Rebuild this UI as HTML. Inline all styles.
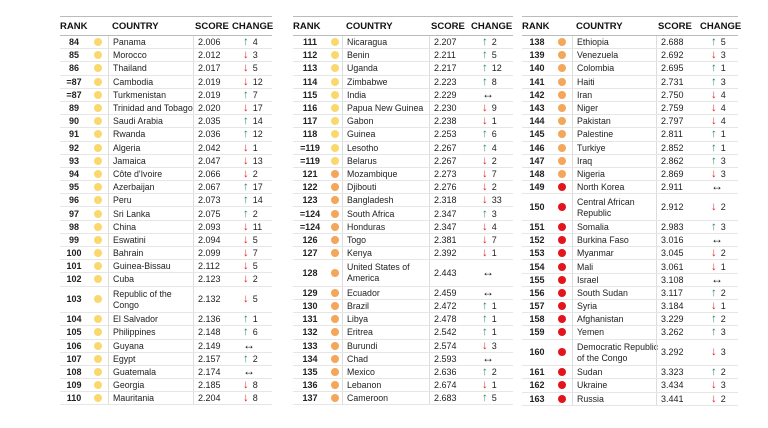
<!DOCTYPE html>
<html><head><meta charset="utf-8"><style>
*{margin:0;padding:0;box-sizing:border-box}
body{width:768px;height:428px;background:#fff;font-family:"Liberation Sans",sans-serif;color:#222;position:relative;overflow:hidden}
.t{position:absolute;top:16px;border-top:1px solid #bbb}
.h{height:19px;display:flex;align-items:center;font-weight:bold;font-size:9.5px;border-bottom:1px solid #bbb;color:#111}
.r{height:13.2px;display:flex;align-items:center;font-size:9px;border-bottom:1px solid #e6e6e6}
.r.x{height:26.6px}
.r>span,.h>span{display:flex;align-items:center;height:100%;white-space:nowrap}
.k{font-weight:bold;justify-content:center}
.d{justify-content:center}
.d:after{content:"";width:8px;height:8px;border-radius:50%;background:var(--c)}
.y{--c:#fbd86e}.o{--c:#f4a65a}.R{--c:#e3141c}
.r>.c{border-left:1px solid #ddd;padding-left:4px;line-height:11px;font-size:8.8px;flex-direction:column;justify-content:center;align-items:flex-start;padding-top:1px}
.c b{font-weight:normal;display:block}
.s{border-left:1px solid #ddd;padding-left:4px}
.g{padding-left:11px}
.u,.n,.v{font-style:normal;font-weight:bold;margin-right:4px;font-size:11.5px;line-height:10px;display:inline-block}
.u{color:#2e8a5c}.v{color:#e0262b}.n{color:#111;font-size:12px;transform:translateY(-1px)}
#a .k{width:28px}#a .d{width:20px}#a .c{width:85px}#a .s{width:39px}#a .g{width:40px}
#b .k{width:34px}#b .d{width:15px}#b .c{width:87px}#b .s{width:42px}#b .g{width:42px}
#e .k{width:30px}#e .d{width:20px}#e .c{width:84px}#e .s{width:44px}#e .g{width:38px}
.h .k{justify-content:flex-start}
.h .c,.h .s{border-left:none}
.h .c{padding-left:4px}
.h .s{padding-left:2px}.h .g{padding-left:0}
</style></head><body>

<div class="t" id="a" style="left:60px;width:212px">
<div class="h"><span class="k">RANK</span><span class="d"></span><span class="c">COUNTRY</span><span class="s">SCORE</span><span class="g">CHANGE</span></div>
<div class="r"><span class="k">84</span><span class="d y"></span><span class="c">Panama</span><span class="s">2.006</span><span class="g"><i class="u">↑</i>4</span></div>
<div class="r"><span class="k">85</span><span class="d y"></span><span class="c">Morocco</span><span class="s">2.012</span><span class="g"><i class="v">↓</i>3</span></div>
<div class="r"><span class="k">86</span><span class="d y"></span><span class="c">Thailand</span><span class="s">2.017</span><span class="g"><i class="v">↓</i>5</span></div>
<div class="r"><span class="k">=87</span><span class="d y"></span><span class="c">Cambodia</span><span class="s">2.019</span><span class="g"><i class="v">↓</i>12</span></div>
<div class="r"><span class="k">=87</span><span class="d y"></span><span class="c">Turkmenistan</span><span class="s">2.019</span><span class="g"><i class="u">↑</i>7</span></div>
<div class="r"><span class="k">89</span><span class="d y"></span><span class="c">Trinidad and Tobago</span><span class="s">2.020</span><span class="g"><i class="v">↓</i>17</span></div>
<div class="r"><span class="k">90</span><span class="d y"></span><span class="c">Saudi Arabia</span><span class="s">2.035</span><span class="g"><i class="u">↑</i>14</span></div>
<div class="r"><span class="k">91</span><span class="d y"></span><span class="c">Rwanda</span><span class="s">2.036</span><span class="g"><i class="u">↑</i>12</span></div>
<div class="r"><span class="k">92</span><span class="d y"></span><span class="c">Algeria</span><span class="s">2.042</span><span class="g"><i class="v">↓</i>1</span></div>
<div class="r"><span class="k">93</span><span class="d y"></span><span class="c">Jamaica</span><span class="s">2.047</span><span class="g"><i class="v">↓</i>13</span></div>
<div class="r"><span class="k">94</span><span class="d y"></span><span class="c">Côte d'Ivoire</span><span class="s">2.066</span><span class="g"><i class="v">↓</i>2</span></div>
<div class="r"><span class="k">95</span><span class="d y"></span><span class="c">Azerbaijan</span><span class="s">2.067</span><span class="g"><i class="u">↑</i>17</span></div>
<div class="r"><span class="k">96</span><span class="d y"></span><span class="c">Peru</span><span class="s">2.073</span><span class="g"><i class="u">↑</i>14</span></div>
<div class="r"><span class="k">97</span><span class="d y"></span><span class="c">Sri Lanka</span><span class="s">2.075</span><span class="g"><i class="u">↑</i>2</span></div>
<div class="r"><span class="k">98</span><span class="d y"></span><span class="c">China</span><span class="s">2.093</span><span class="g"><i class="v">↓</i>11</span></div>
<div class="r"><span class="k">99</span><span class="d y"></span><span class="c">Eswatini</span><span class="s">2.094</span><span class="g"><i class="v">↓</i>5</span></div>
<div class="r"><span class="k">100</span><span class="d y"></span><span class="c">Bahrain</span><span class="s">2.099</span><span class="g"><i class="v">↓</i>7</span></div>
<div class="r"><span class="k">101</span><span class="d y"></span><span class="c">Guinea-Bissau</span><span class="s">2.112</span><span class="g"><i class="v">↓</i>5</span></div>
<div class="r"><span class="k">102</span><span class="d y"></span><span class="c">Cuba</span><span class="s">2.123</span><span class="g"><i class="v">↓</i>2</span></div>
<div class="r x"><span class="k">103</span><span class="d y"></span><span class="c"><b>Republic of the</b><b>Congo</b></span><span class="s">2.132</span><span class="g"><i class="v">↓</i>5</span></div>
<div class="r"><span class="k">104</span><span class="d y"></span><span class="c">El Salvador</span><span class="s">2.136</span><span class="g"><i class="u">↑</i>1</span></div>
<div class="r"><span class="k">105</span><span class="d y"></span><span class="c">Philippines</span><span class="s">2.148</span><span class="g"><i class="u">↑</i>6</span></div>
<div class="r"><span class="k">106</span><span class="d y"></span><span class="c">Guyana</span><span class="s">2.149</span><span class="g"><i class="n">↔</i></span></div>
<div class="r"><span class="k">107</span><span class="d y"></span><span class="c">Egypt</span><span class="s">2.157</span><span class="g"><i class="u">↑</i>2</span></div>
<div class="r"><span class="k">108</span><span class="d y"></span><span class="c">Guatemala</span><span class="s">2.174</span><span class="g"><i class="n">↔</i></span></div>
<div class="r"><span class="k">109</span><span class="d y"></span><span class="c">Georgia</span><span class="s">2.185</span><span class="g"><i class="v">↓</i>8</span></div>
<div class="r"><span class="k">110</span><span class="d y"></span><span class="c">Mauritania</span><span class="s">2.204</span><span class="g"><i class="v">↓</i>8</span></div>
</div>

<div class="t" id="b" style="left:293px;width:220px">
<div class="h"><span class="k">RANK</span><span class="d"></span><span class="c">COUNTRY</span><span class="s">SCORE</span><span class="g">CHANGE</span></div>
<div class="r"><span class="k">111</span><span class="d y"></span><span class="c">Nicaragua</span><span class="s">2.207</span><span class="g"><i class="u">↑</i>2</span></div>
<div class="r"><span class="k">112</span><span class="d y"></span><span class="c">Benin</span><span class="s">2.211</span><span class="g"><i class="u">↑</i>5</span></div>
<div class="r"><span class="k">113</span><span class="d y"></span><span class="c">Uganda</span><span class="s">2.217</span><span class="g"><i class="u">↑</i>12</span></div>
<div class="r"><span class="k">114</span><span class="d y"></span><span class="c">Zimbabwe</span><span class="s">2.223</span><span class="g"><i class="u">↑</i>8</span></div>
<div class="r"><span class="k">115</span><span class="d y"></span><span class="c">India</span><span class="s">2.229</span><span class="g"><i class="n">↔</i></span></div>
<div class="r"><span class="k">116</span><span class="d y"></span><span class="c">Papua New Guinea</span><span class="s">2.230</span><span class="g"><i class="v">↓</i>9</span></div>
<div class="r"><span class="k">117</span><span class="d y"></span><span class="c">Gabon</span><span class="s">2.238</span><span class="g"><i class="v">↓</i>1</span></div>
<div class="r"><span class="k">118</span><span class="d y"></span><span class="c">Guinea</span><span class="s">2.253</span><span class="g"><i class="u">↑</i>6</span></div>
<div class="r"><span class="k">=119</span><span class="d y"></span><span class="c">Lesotho</span><span class="s">2.267</span><span class="g"><i class="u">↑</i>4</span></div>
<div class="r"><span class="k">=119</span><span class="d y"></span><span class="c">Belarus</span><span class="s">2.267</span><span class="g"><i class="v">↓</i>2</span></div>
<div class="r"><span class="k">121</span><span class="d o"></span><span class="c">Mozambique</span><span class="s">2.273</span><span class="g"><i class="v">↓</i>7</span></div>
<div class="r"><span class="k">122</span><span class="d o"></span><span class="c">Djibouti</span><span class="s">2.276</span><span class="g"><i class="v">↓</i>2</span></div>
<div class="r"><span class="k">123</span><span class="d o"></span><span class="c">Bangladesh</span><span class="s">2.318</span><span class="g"><i class="v">↓</i>33</span></div>
<div class="r"><span class="k">=124</span><span class="d o"></span><span class="c">South Africa</span><span class="s">2.347</span><span class="g"><i class="u">↑</i>3</span></div>
<div class="r"><span class="k">=124</span><span class="d o"></span><span class="c">Honduras</span><span class="s">2.347</span><span class="g"><i class="v">↓</i>4</span></div>
<div class="r"><span class="k">126</span><span class="d o"></span><span class="c">Togo</span><span class="s">2.381</span><span class="g"><i class="v">↓</i>7</span></div>
<div class="r"><span class="k">127</span><span class="d o"></span><span class="c">Kenya</span><span class="s">2.392</span><span class="g"><i class="v">↓</i>1</span></div>
<div class="r x"><span class="k">128</span><span class="d o"></span><span class="c"><b>United States of</b><b>America</b></span><span class="s">2.443</span><span class="g"><i class="n">↔</i></span></div>
<div class="r"><span class="k">129</span><span class="d o"></span><span class="c">Ecuador</span><span class="s">2.459</span><span class="g"><i class="n">↔</i></span></div>
<div class="r"><span class="k">130</span><span class="d o"></span><span class="c">Brazil</span><span class="s">2.472</span><span class="g"><i class="u">↑</i>1</span></div>
<div class="r"><span class="k">131</span><span class="d o"></span><span class="c">Libya</span><span class="s">2.478</span><span class="g"><i class="u">↑</i>1</span></div>
<div class="r"><span class="k">132</span><span class="d o"></span><span class="c">Eritrea</span><span class="s">2.542</span><span class="g"><i class="u">↑</i>1</span></div>
<div class="r"><span class="k">133</span><span class="d o"></span><span class="c">Burundi</span><span class="s">2.574</span><span class="g"><i class="v">↓</i>3</span></div>
<div class="r"><span class="k">134</span><span class="d o"></span><span class="c">Chad</span><span class="s">2.593</span><span class="g"><i class="n">↔</i></span></div>
<div class="r"><span class="k">135</span><span class="d o"></span><span class="c">Mexico</span><span class="s">2.636</span><span class="g"><i class="u">↑</i>2</span></div>
<div class="r"><span class="k">136</span><span class="d o"></span><span class="c">Lebanon</span><span class="s">2.674</span><span class="g"><i class="v">↓</i>1</span></div>
<div class="r"><span class="k">137</span><span class="d o"></span><span class="c">Cameroon</span><span class="s">2.683</span><span class="g"><i class="u">↑</i>5</span></div>
</div>

<div class="t" id="e" style="left:522px;width:216px">
<div class="h"><span class="k">RANK</span><span class="d"></span><span class="c">COUNTRY</span><span class="s">SCORE</span><span class="g">CHANGE</span></div>
<div class="r"><span class="k">138</span><span class="d o"></span><span class="c">Ethiopia</span><span class="s">2.688</span><span class="g"><i class="u">↑</i>5</span></div>
<div class="r"><span class="k">139</span><span class="d o"></span><span class="c">Venezuela</span><span class="s">2.692</span><span class="g"><i class="v">↓</i>3</span></div>
<div class="r"><span class="k">140</span><span class="d o"></span><span class="c">Colombia</span><span class="s">2.695</span><span class="g"><i class="u">↑</i>1</span></div>
<div class="r"><span class="k">141</span><span class="d o"></span><span class="c">Haiti</span><span class="s">2.731</span><span class="g"><i class="u">↑</i>3</span></div>
<div class="r"><span class="k">142</span><span class="d o"></span><span class="c">Iran</span><span class="s">2.750</span><span class="g"><i class="v">↓</i>4</span></div>
<div class="r"><span class="k">143</span><span class="d o"></span><span class="c">Niger</span><span class="s">2.759</span><span class="g"><i class="v">↓</i>4</span></div>
<div class="r"><span class="k">144</span><span class="d o"></span><span class="c">Pakistan</span><span class="s">2.797</span><span class="g"><i class="v">↓</i>4</span></div>
<div class="r"><span class="k">145</span><span class="d o"></span><span class="c">Palestine</span><span class="s">2.811</span><span class="g"><i class="u">↑</i>1</span></div>
<div class="r"><span class="k">146</span><span class="d o"></span><span class="c">Turkiye</span><span class="s">2.852</span><span class="g"><i class="u">↑</i>1</span></div>
<div class="r"><span class="k">147</span><span class="d o"></span><span class="c">Iraq</span><span class="s">2.862</span><span class="g"><i class="u">↑</i>3</span></div>
<div class="r"><span class="k">148</span><span class="d o"></span><span class="c">Nigeria</span><span class="s">2.869</span><span class="g"><i class="v">↓</i>3</span></div>
<div class="r"><span class="k">149</span><span class="d R"></span><span class="c">North Korea</span><span class="s">2.911</span><span class="g"><i class="n">↔</i></span></div>
<div class="r x"><span class="k">150</span><span class="d R"></span><span class="c"><b>Central African</b><b>Republic</b></span><span class="s">2.912</span><span class="g"><i class="v">↓</i>2</span></div>
<div class="r"><span class="k">151</span><span class="d R"></span><span class="c">Somalia</span><span class="s">2.983</span><span class="g"><i class="u">↑</i>3</span></div>
<div class="r"><span class="k">152</span><span class="d R"></span><span class="c">Burkina Faso</span><span class="s">3.016</span><span class="g"><i class="n">↔</i></span></div>
<div class="r"><span class="k">153</span><span class="d R"></span><span class="c">Myanmar</span><span class="s">3.045</span><span class="g"><i class="v">↓</i>2</span></div>
<div class="r"><span class="k">154</span><span class="d R"></span><span class="c">Mali</span><span class="s">3.061</span><span class="g"><i class="v">↓</i>1</span></div>
<div class="r"><span class="k">155</span><span class="d R"></span><span class="c">Israel</span><span class="s">3.108</span><span class="g"><i class="n">↔</i></span></div>
<div class="r"><span class="k">156</span><span class="d R"></span><span class="c">South Sudan</span><span class="s">3.117</span><span class="g"><i class="u">↑</i>2</span></div>
<div class="r"><span class="k">157</span><span class="d R"></span><span class="c">Syria</span><span class="s">3.184</span><span class="g"><i class="v">↓</i>1</span></div>
<div class="r"><span class="k">158</span><span class="d R"></span><span class="c">Afghanistan</span><span class="s">3.229</span><span class="g"><i class="u">↑</i>2</span></div>
<div class="r"><span class="k">159</span><span class="d R"></span><span class="c">Yemen</span><span class="s">3.262</span><span class="g"><i class="u">↑</i>3</span></div>
<div class="r x"><span class="k">160</span><span class="d R"></span><span class="c"><b>Democratic Republic</b><b>of the Congo</b></span><span class="s">3.292</span><span class="g"><i class="v">↓</i>3</span></div>
<div class="r"><span class="k">161</span><span class="d R"></span><span class="c">Sudan</span><span class="s">3.323</span><span class="g"><i class="u">↑</i>2</span></div>
<div class="r"><span class="k">162</span><span class="d R"></span><span class="c">Ukraine</span><span class="s">3.434</span><span class="g"><i class="v">↓</i>3</span></div>
<div class="r"><span class="k">163</span><span class="d R"></span><span class="c">Russia</span><span class="s">3.441</span><span class="g"><i class="v">↓</i>2</span></div>
</div>
</body></html>
